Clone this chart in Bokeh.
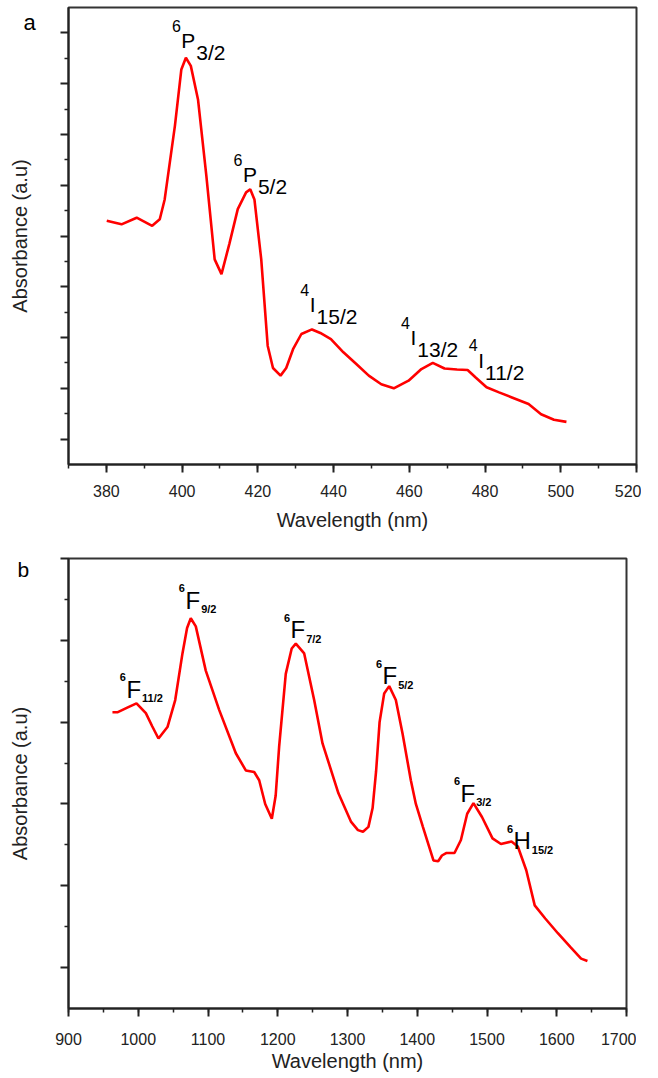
from bokeh.plotting import figure
from bokeh.layouts import column
from bokeh.models import (Range1d, FixedTicker, SingleIntervalTicker,
                          CustomJSTickFormatter, Title, ColumnDataSource)
from bokeh.core.properties import value
from bokeh.embed import file_html
from bokeh.resources import INLINE

# ---------------- data: panel a (visible range) ----------------
a_wavelength = [380.1, 384.0, 388.0, 392.1, 394.1, 395.4, 398.1, 399.8, 401.0,
                402.3, 404.2, 406.4, 408.6, 410.4, 412.5, 414.7, 416.9, 418.0,
                419.1, 420.9, 422.6, 424.0, 426.0, 427.5, 429.3, 431.5, 434.3,
                436.5, 439.3, 442.6, 446.0, 449.3, 452.6, 455.9, 459.8, 463.2,
                466.2, 469.3, 472.6, 475.4, 477.6, 480.4, 483.7, 487.1, 491.5,
                494.8, 498.2, 501.5]
a_absorb = [0.480, 0.473, 0.486, 0.470, 0.483, 0.522, 0.667, 0.778, 0.801,
            0.785, 0.719, 0.569, 0.404, 0.375, 0.435, 0.503, 0.536, 0.542,
            0.522, 0.404, 0.234, 0.190, 0.175, 0.190, 0.227, 0.257, 0.266,
            0.259, 0.247, 0.221, 0.198, 0.175, 0.158, 0.150, 0.165, 0.188,
            0.200, 0.189, 0.187, 0.186, 0.171, 0.152, 0.142, 0.132, 0.119,
            0.099, 0.088, 0.084]
a_xrange = (370, 520)
a_yrange = (0.0, 0.9)
a_y_major = [0.05, 0.15, 0.25, 0.35, 0.45, 0.55, 0.65, 0.75, 0.85]
a_y_minor = [0.1, 0.2, 0.3, 0.4, 0.5, 0.6, 0.7, 0.8]
a_lab_sup = ["6", "6", "4", "4", "4"]
a_lab_main = ["P", "P", "I", "I", "I"]
a_lab_sub = ["3/2", "5/2", "15/2", "13/2", "11/2"]
a_lab_x = [399.8, 416.05, 433.7, 460.3, 478.2]
a_lab_y = [0.835, 0.571, 0.315, 0.250, 0.205]

# ---------------- data: panel b (NIR range) ----------------
b_wavelength = [963, 970, 985, 997.5, 1010.9, 1020, 1029, 1041.9, 1053, 1063.4,
                1070, 1075.3, 1082.5, 1096.8, 1116, 1139.9, 1154.2, 1166.2,
                1173.4, 1182, 1191.5, 1197, 1202, 1211.5, 1220, 1225.9, 1237.9,
                1252.2, 1264.2, 1287, 1305.2, 1315, 1322.2, 1330, 1336, 1341,
                1346, 1352.6, 1359.8, 1369.3, 1378.9, 1390.8, 1398, 1408.1,
                1423.2, 1430, 1435.4, 1441.4, 1453.4, 1462.6, 1471.6, 1480.6,
                1492.8, 1507.9, 1520, 1535.1, 1544.2, 1556.3, 1568.4, 1583.5,
                1601.6, 1619.7, 1634.9, 1644]
b_absorb = [0.362, 0.362, 0.368, 0.373, 0.361, 0.345, 0.330, 0.344, 0.377, 0.434,
            0.465, 0.477, 0.467, 0.413, 0.365, 0.312, 0.291, 0.289,
            0.279, 0.250, 0.232, 0.260, 0.320, 0.409, 0.440, 0.446, 0.434,
            0.377, 0.324, 0.263, 0.228, 0.218, 0.216, 0.222, 0.245, 0.290,
            0.350, 0.385, 0.394, 0.377, 0.336, 0.279, 0.250, 0.222,
            0.181, 0.180, 0.187, 0.190, 0.190, 0.206, 0.238, 0.251,
            0.234, 0.208, 0.201, 0.204, 0.198, 0.169, 0.126, 0.110,
            0.092, 0.075, 0.061, 0.058]
b_xrange = (900, 1700)
b_yrange = (0.0, 0.55)
b_y_major = [0.05, 0.15, 0.25, 0.35, 0.45, 0.55]
b_y_minor = [0.1, 0.2, 0.3, 0.4, 0.5]
b_lab_sup = ["6", "6", "6", "6", "6", "6"]
b_lab_main = ["F", "F", "F", "F", "F", "H"]
b_lab_sub = ["11/2", "9/2", "7/2", "5/2", "3/2", "15/2"]
b_lab_x = [983.0, 1067.7, 1218.3, 1350.2, 1462.0, 1538.0]
b_lab_y = [0.390, 0.499, 0.463, 0.407, 0.263, 0.205]

FONT = "Liberation Sans"
RED = "#ff0000"
ADV = {"P": 0.667, "I": 0.278, "F": 0.611, "H": 0.722}


def make_fig(xr, yr, fw, fh, bl, bt, bb, br, xtick, s1, s2):
    p = figure(x_range=Range1d(*xr), y_range=Range1d(*yr),
               frame_width=fw, frame_height=fh,
               min_border_left=bl, min_border_top=bt,
               min_border_bottom=bb, min_border_right=br,
               toolbar_location=None, output_backend="svg")
    p.grid.visible = False
    p.outline_line_color = "#333333"
    p.outline_line_width = 2
    p.outline_line_alpha = 1.0
    p.background_fill_color = "white"
    p.border_fill_color = "white"
    p.xaxis.ticker = SingleIntervalTicker(interval=xtick, num_minor_ticks=2)
    for ax in (p.xaxis[0], p.yaxis[0]):
        ax.axis_line_width = 2
        ax.axis_line_color = "#222222"
        ax.major_tick_line_width = 2
        ax.major_tick_line_color = "#222222"
        ax.minor_tick_line_width = 1.5
        ax.minor_tick_line_color = "#222222"
        ax.major_tick_in = 0
        ax.minor_tick_in = 0
        ax.major_tick_out = 8
        ax.minor_tick_out = 4
        ax.axis_label_text_font = FONT
        ax.axis_label_text_font_size = "20px"
        ax.axis_label_text_font_style = "normal"
        ax.axis_label_text_color = "#222222"
        ax.major_label_text_font = FONT
        ax.major_label_text_font_size = "16px"
        ax.major_label_text_color = "#222222"
    p.xaxis.axis_label = "Wavelength (nm)"
    p.xaxis.major_label_standoff = s1
    p.xaxis.axis_label_standoff = s2
    p.yaxis.axis_label = "Absorbance (a.u)"
    p.yaxis.formatter = CustomJSTickFormatter(code="return ''")
    p.yaxis.major_label_standoff = 0
    p.yaxis.axis_label_standoff = 30
    return p


def add_labels(p, xs, ys, sup, main, sub, main_size, small_size,
               small_style, sup_dy, sub_dy):
    sub_dx = [ADV[m] * main_size + 1.0 for m in main]
    src = ColumnDataSource(dict(x=xs, y=ys, sup=sup, main=main, sub=sub,
                                sub_dx=sub_dx))
    p.text(x="x", y="y", text="main", source=src, text_font=value(FONT),
           text_font_size=value(f"{main_size}px"), text_color="black",
           text_align="left", text_baseline="alphabetic")
    p.text(x="x", y="y", text="sup", source=src, text_font=value(FONT),
           text_font_size=value(f"{small_size[0]}px"), text_color="black",
           text_font_style=small_style, text_align="right",
           text_baseline="alphabetic", x_offset=-0.5, y_offset=sup_dy)
    p.text(x="x", y="y", text="sub", source=src, text_font=value(FONT),
           text_font_size=value(f"{small_size[1]}px"), text_color="black",
           text_font_style=small_style, text_align="left",
           text_baseline="alphabetic", x_offset="sub_dx", y_offset=sub_dy)


# ---------------- panel a ----------------
pa = make_fig(a_xrange, a_yrange, 568, 457, 62, 7, 68, 10, 20, 12, 9)
pa.yaxis.ticker = FixedTicker(ticks=a_y_major, minor_ticks=a_y_minor)
pa.line(a_wavelength, a_absorb, line_color=RED, line_width=2.6)
add_labels(pa, a_lab_x, a_lab_y, a_lab_sup, a_lab_main, a_lab_sub,
           21, (16, 21), "normal", -15, 12)
pa.add_layout(Title(text="a", align="left", offset=-45, standoff=-54,
                    vertical_align="bottom", text_font=FONT,
                    text_font_size="22px", text_font_style="normal",
                    text_color="black"), "above")

# ---------------- panel b ----------------
pb = make_fig(b_xrange, b_yrange, 558, 450, 68, 25, 55, 10, 100, 16, 2)
pb.yaxis.ticker = FixedTicker(ticks=b_y_major, minor_ticks=b_y_minor)
pb.line(b_wavelength, b_absorb, line_color=RED, line_width=2.6)
add_labels(pb, b_lab_x, b_lab_y, b_lab_sup, b_lab_main, b_lab_sub,
           24, (11, 11), "bold", -12, 9)
pb.add_layout(Title(text="b", align="left", offset=-51, standoff=-45,
                    vertical_align="bottom", text_font=FONT,
                    text_font_size="21px", text_font_style="normal",
                    text_color="black"), "above")

layout = column(pa, pb, spacing=0)
open("out.html", "w").write(file_html(layout, INLINE))
